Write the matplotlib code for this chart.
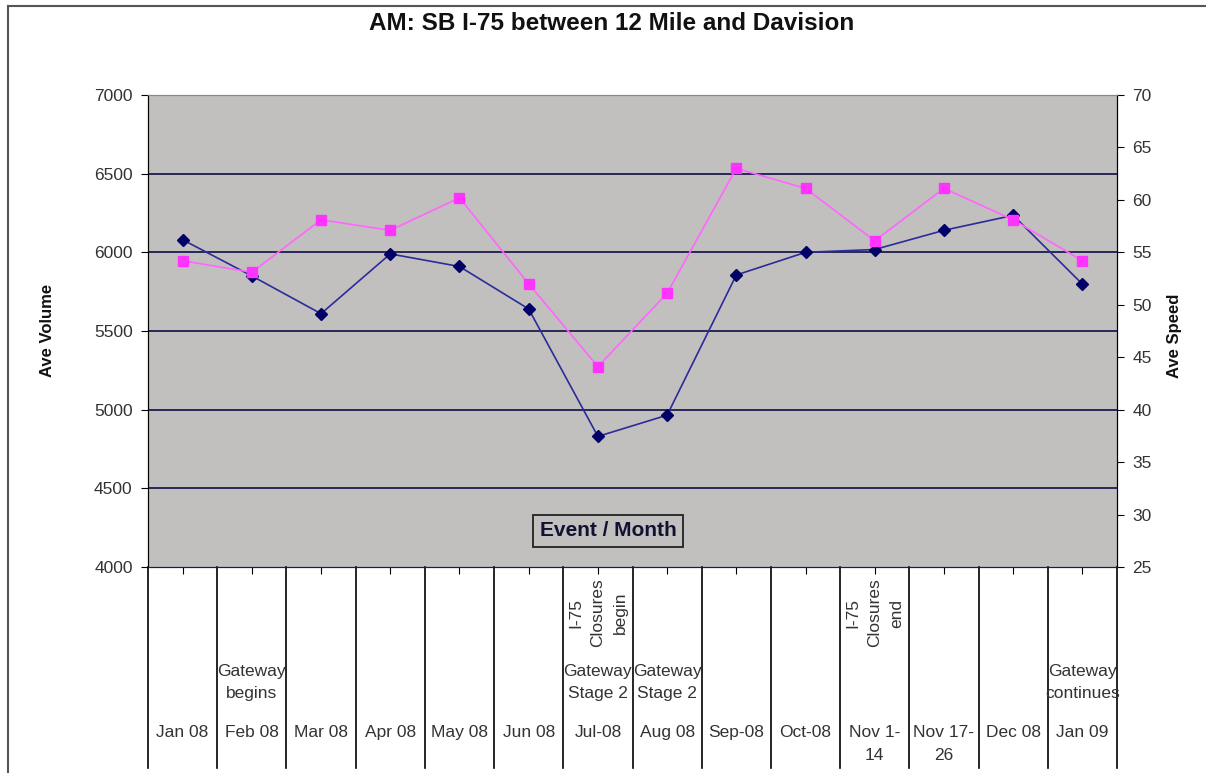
import matplotlib.pyplot as plt
from matplotlib.lines import Line2D

plt.rcParams['font.family'] = ['Liberation Sans', 'DejaVu Sans']

# data
months = ['Jan 08', 'Feb 08', 'Mar 08', 'Apr 08', 'May 08', 'Jun 08', 'Jul-08',
          'Aug 08', 'Sep-08', 'Oct-08', 'Nov 1-\n14', 'Nov 17-\n26', 'Dec 08', 'Jan 09']
gateway = ['', 'Gateway\nbegins', '', '', '', '', 'Gateway\nStage 2',
           'Gateway\nStage 2', '', '', '', '', '', 'Gateway\ncontinues']
closures = ['', '', '', '', '', '', 'I-75\nClosures\nbegin',
            '', '', '', 'I-75\nClosures\nend', '', '', '']
volume = [6080, 5850, 5610, 5990, 5910, 5640, 4830, 4965, 5856, 6000, 6018, 6140, 6235, 5798]
speed = [54.2, 53.1, 58.1, 57.1, 60.2, 52.0, 44.1, 51.1, 63.0, 61.1, 56.1, 61.1, 58.1, 54.2]

fig = plt.figure(figsize=(12.06, 7.73), dpi=100)
W, H = 1206, 773

ax = fig.add_axes([148 / W, 1 - 567 / H, (1117 - 148) / W, (567 - 95) / H])
ax.set_facecolor('#c2c0be')
x = list(range(len(months)))
ax.set_xlim(-0.5, len(months) - 0.5)
ax.set_ylim(4000, 7000)
ax.set_yticks(range(4000, 7001, 500))
for g in range(4500, 7000, 500):
    ax.axhline(g, color='#1c1c50', lw=1.3, zorder=1)

ax.plot(x, volume, color='#2b2b9a', lw=1.2, marker='D', ms=6.5,
        mfc='#000066', mec='#000066', zorder=4)

ax2 = ax.twinx()
ax2.set_ylim(25, 70)
ax2.set_yticks(range(25, 71, 5))
ax2.plot(x, speed, color='#ff66ff', lw=1.2, marker='s', ms=7.5,
         mfc='#ff33ff', mec='#ff33ff', zorder=3)

for a in (ax, ax2):
    a.spines['top'].set_color('#888888')
    a.spines['bottom'].set_color('#1c1c50')
    a.spines['left'].set_color('black')
    a.spines['right'].set_color('black')
    a.tick_params(axis='y', labelsize=12.5, length=5, direction='out', colors='black',
                  labelcolor='#333333', pad=6)

ax.set_xticks(x)
ax.set_xticklabels([])
ax.tick_params(axis='x', length=5, direction='out')

fig.text(47 / W, 1 - 330 / H, 'Ave Volume', rotation=90, ha='center', va='center',
         fontsize=12, fontweight='bold', color='#111111')
fig.text(1175 / W, 1 - 336 / H, 'Ave Speed', rotation=90, ha='center', va='center',
         fontsize=12, fontweight='bold', color='#111111')

# multi-level category labels below the axis
depth = (768 - 567) / (567 - 95)
for k in range(len(months) + 1):
    ax.add_line(Line2D([k - 0.5, k - 0.5], [0, -depth], transform=ax.get_xaxis_transform(),
                       color='black', lw=1.2, clip_on=False))
for i in x:
    ax.text(i, -(725 - 567) / 472, months[i], transform=ax.get_xaxis_transform(),
            ha='center', va='top', fontsize=12.5, color='#333333', linespacing=1.65)
    if gateway[i]:
        ax.text(i, -(664 - 567) / 472, gateway[i], transform=ax.get_xaxis_transform(),
                ha='center', va='top', fontsize=12.5, color='#333333', linespacing=1.55)
    if closures[i]:
        ax.text(i, -(613 - 567) / 472, closures[i], transform=ax.get_xaxis_transform(),
                ha='center', va='center', rotation=90, fontsize=12.5, color='#333333',
                linespacing=1.6)

ax.text((608 - 148) / 969, (567 - 531) / 472, 'Event / Month', transform=ax.transAxes,
        ha='center', va='center', fontsize=15, fontweight='bold', color='#111133',
        bbox=dict(boxstyle='square,pad=0.3', fc='#c2c0be', ec='#222222', lw=1.3), zorder=5)

fig.text(612 / W, 1 - 23 / H, 'AM: SB I-75 between 12 Mile and Davision', ha='center',
         va='center', fontsize=17.5, fontweight='bold', color='#111111')

# outer chart frame (only top and left edges are visible)
fig.add_artist(Line2D([8 / W, 1], [1 - 6 / H, 1 - 6 / H], transform=fig.transFigure,
                      color='#555555', lw=1.5))
fig.add_artist(Line2D([8 / W, 8 / W], [0, 1 - 6 / H], transform=fig.transFigure,
                      color='#555555', lw=1.5))

fig.savefig('out.png', dpi=100)
